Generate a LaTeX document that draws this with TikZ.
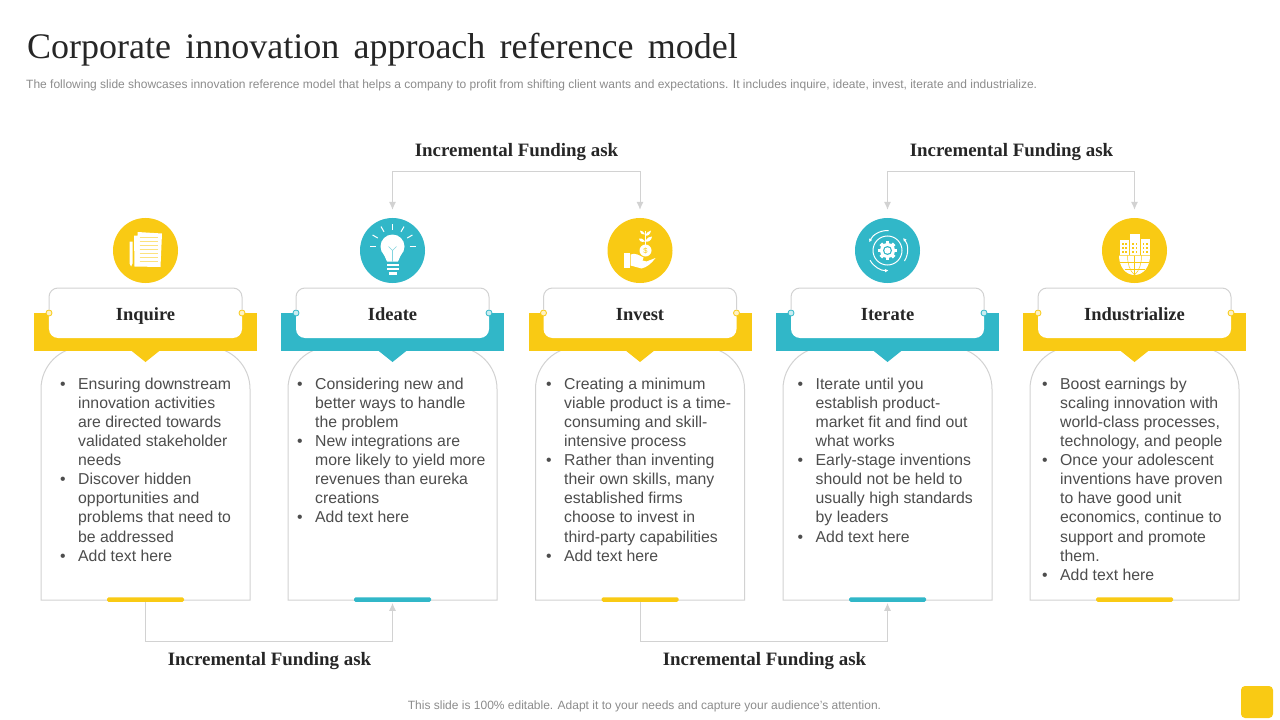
\documentclass[tikz,border=0pt]{standalone}
\usepackage{fontspec}
\setmainfont{Liberation Sans}
\newfontfamily\serifbold[Ligatures=TeX]{Liberation Serif}
\usepackage{xcolor}
\usetikzlibrary{arrows.meta,calc}
\definecolor{fundgold}{HTML}{F9CA14}
\definecolor{fundteal}{HTML}{31B7C8}
\definecolor{fundgrey}{HTML}{D2D2D2}
\definecolor{darktext}{HTML}{262626}
\definecolor{bodytext}{HTML}{4D4D4D}
\definecolor{softtext}{HTML}{8C8C8C}
\newcommand{\bul}{\llap{\textbullet\hspace{12.5bp}}}
\tikzset{
  titletext/.style={inner sep=0pt,anchor=west,text=darktext,font=\serifbold\fontsize{36bp}{40bp}\selectfont},
  smalltext/.style={inner sep=0pt,text=softtext,font=\fontsize{12bp}{14bp}\selectfont},
  fundlabel/.style={inner sep=0pt,text=darktext,font=\serifbold\bfseries\fontsize{18.9bp}{22bp}\selectfont},
  stagelabel/.style={inner sep=0pt,anchor=base,text=darktext,font=\serifbold\bfseries\fontsize{18.5bp}{22bp}\selectfont},
  bodylist/.style={inner sep=0pt,anchor=north west,align=left,text=bodytext,font=\fontsize{15.8bp}{19.1bp}\selectfont},
  fundline/.style={draw=fundgrey,line width=1bp,-{Latex[length=8bp,width=7bp]}},
  edgeline/.style={draw=fundgrey,line width=1bp},
}
\begin{document}
\begin{tikzpicture}[x=1bp,y=-1bp]
\useasboundingbox (0,0) rectangle (1280,720);
\fill[white] (0,0) rectangle (1280,720);
%% heading
\node (title) at (27,50) [titletext] {\spaceskip=14.2bp Corporate innovation approach reference model};
\node (subtitle) at (26,85.5) [smalltext,anchor=west] {The following slide showcases innovation reference model that helps a company to profit from shifting client wants and expectations. It includes inquire, ideate, invest, iterate and industrialize.};
%% the five columns
\foreach \nm/\cx/\colr/\ttl in {inquire/145.5/fundgold/Inquire,ideate/392.5/fundteal/Ideate,invest/640/fundgold/Invest,iterate/887.5/fundteal/Iterate,industrial/1134.5/fundgold/Industrialize}{
\begin{scope}[shift={(\cx,0)}]
  \draw [edgeline,fill=white] (-104.5,600) [rounded corners=42bp] -- (-104.5,347) -- (104.5,347) [sharp corners] -- (104.5,600) -- cycle;
  \fill [\colr] (-111.5,313) rectangle (111.5,351);
  \fill [\colr] (-15,350) -- (15,350) -- (0,362) -- cycle;
  \node (\nm head) at (0,313) [fill=white,rounded corners=9bp,minimum width=193bp,minimum height=50bp] {};
  \node (\nm) at (0,320) [stagelabel] {\ttl};
  \node (\nm left) at (-96.5,313) [circle,inner sep=0pt,minimum size=6bp,draw=\colr,fill=\colr!25,line width=.8bp] {};
  \node (\nm right) at (96.5,313) [circle,inner sep=0pt,minimum size=6bp,draw=\colr,fill=\colr!25,line width=.8bp] {};
  \draw [edgeline,rounded corners=9bp] (\nm left) |- (0,288) -| (\nm right);
  \node (\nm icon) at (0,250.5) [circle,fill=\colr,minimum size=65bp,inner sep=0pt] {};
  \node (\nm bar) at (0,599.5) [fill=\colr,rounded corners=1.5bp,minimum width=77bp,minimum height=4.5bp,inner sep=0pt] {};
\end{scope}
}
%% column texts
\node (inquiretext) at (78,377.6) [bodylist] {\bul Ensuring downstream\\innovation activities\\are directed towards\\validated stakeholder\\needs\\\bul Discover hidden\\opportunities and\\problems that need to\\be addressed\\\bul Add text here};
\node (ideatetext) at (315,377.6) [bodylist] {\bul Considering new and\\better ways to handle\\the problem\\\bul New integrations are\\more likely to yield more\\revenues than eureka\\creations\\\bul Add text here};
\node (investtext) at (564,377.6) [bodylist] {\bul Creating a minimum\\viable product is a time-\\consuming and skill-\\intensive process\\\bul Rather than inventing\\their own skills, many\\established firms\\choose to invest in\\third-party capabilities\\\bul Add text here};
\node (iteratetext) at (815.5,377.6) [bodylist] {\bul Iterate until you\\establish product-\\market fit and find out\\what works\\\bul Early-stage inventions\\should not be held to\\usually high standards\\by leaders\\\bul Add text here};
\node (industrialtext) at (1060,377.6) [bodylist] {\bul Boost earnings by\\scaling innovation with\\world-class processes,\\technology, and people\\\bul Once your adolescent\\inventions have proven\\to have good unit\\economics, continue to\\support and promote\\them.\\\bul Add text here};
%% funding asks
\node (fundtopa) at (516.5,152) [fundlabel] {Incremental Funding ask};
\node (fundtopb) at (1011.5,152) [fundlabel] {Incremental Funding ask};
\node (fundbota) at (269.5,661) [fundlabel] {Incremental Funding ask};
\node (fundbotb) at (764.5,661) [fundlabel] {Incremental Funding ask};
\coordinate (cornera) at (516.5,171.5);
\coordinate (cornerb) at (1011.5,171.5);
\coordinate (cornerc) at (269.5,641.5);
\coordinate (cornerd) at (764.5,641.5);
\draw [fundline,{Latex[length=8bp,width=7bp]}-{Latex[length=8bp,width=7bp]},shorten <=8bp,shorten >=8bp] (ideateicon.north) |- (cornera) -| (investicon.north);
\draw [fundline,{Latex[length=8bp,width=7bp]}-{Latex[length=8bp,width=7bp]},shorten <=8bp,shorten >=8bp] (iterateicon.north) |- (cornerb) -| (industrialicon.north);
\draw [fundline,shorten >=1bp] (inquirebar.south) |- (cornerc) -| (ideatebar.south);
\draw [fundline,shorten >=1bp] (investbar.south) |- (cornerd) -| (iteratebar.south);
%% icons
% papers
\begin{scope}[shift={(145.5,250.5)}]
  \fill [white] (-11.5,-15) -- (-8,-15) -- (-8,-18.5) -- (16.5,-17) -- (15,16.5) -- (-11,16) -- cycle;
  \fill [white] (-16,-9) -- (-13,-9) -- (-13,13) -- (-14.5,16) -- (-16,13) -- cycle;
  \foreach \ly in {-13,-9,-5,-1,3,7,11}{\draw [fundgold!55,line width=.5bp] (-6,\ly) -- (12,\ly);}
\end{scope}
% bulb
\begin{scope}[shift={(392.5,250.5)},fundrays/.style={white,line width=1bp}]
  \fill [white] (0,-4) circle (12);
  \fill [white] (-9.5,2) -- (9.5,2) -- (5.5,11) -- (-5.5,11) -- cycle;
  \fill [white] (-6,13) rectangle (6,15.5);
  \fill [white] (-6,17) rectangle (6,19.5);
  \fill [white] (-4,21) rectangle (4,24);
  \draw [fundteal!60,line width=.6bp] (0,11) -- (0,0) -- (-4,-4) (0,0) -- (4,-4);
  \foreach \ra in {0,-30,-60,-90,-120,-150,180}{\draw [fundrays] (0,-4) ++(\ra:17) -- ++(\ra:6);}
\end{scope}
% hand with coin and sprout
\begin{scope}[shift={(640.5,250.5)}]
  \fill [white] (-16.5,2) rectangle (-11,17.5);
  \fill [white] (-10,4) .. controls (-5,2) and (-1,5) .. (3,7) -- (2,10) -- (6,11) -- (15,7.5) .. controls (11,13) and (6,17) .. (1,18) -- (-10,15) -- cycle;
  \fill [white] (5,0) circle (6);
  \node (coinmark) at (5,0) [inner sep=0pt,text=fundgold,font=\fontsize{7.5bp}{8bp}\selectfont] {\$};
  \draw [white,line width=1bp] (4.5,-6) -- (4.5,-20);
  \fill [white] (4.5,-9) .. controls (7,-13) and (9,-14) .. (11.5,-14) .. controls (11,-10) and (8,-8) .. (4.5,-9);
  \fill [white] (4.5,-9) .. controls (2,-12) and (0,-13) .. (-1.5,-12) .. controls (-1,-9) and (1,-8) .. (4.5,-9);
  \fill [white] (4.5,-15) .. controls (6,-18) and (8,-19) .. (10.5,-20) .. controls (10,-16) and (7,-14) .. (4.5,-15);
  \fill [white] (4.5,-16) .. controls (3,-19) and (1,-20) .. (-.5,-20) .. controls (0,-17) and (2,-15) .. (4.5,-16);
\end{scope}
% gear with turning arrows
\begin{scope}[shift={(887.5,250.5)}]
  \draw [white,line width=1bp] (0,0) circle (14.5);
  \fill [white] (0,0) circle (7.5);
  \foreach \ga in {0,45,...,315}{\fill [white,rotate=\ga] (-1.8,-9.5) rectangle (1.8,-6);}
  \fill [fundteal] (0,0) circle (4.5);
  \fill [white] (0,0) circle (3.2);
  \draw [white,line width=1bp,-{Latex[length=3.5bp,width=3.5bp]}] (-87:20) arc (-87:-156:20);
  \draw [white,line width=1bp,-{Latex[length=3.5bp,width=3.5bp]}] (32:20) arc (32:-39:20);
  \draw [white,line width=1bp,-{Latex[length=3.5bp,width=3.5bp]}] (151:20) arc (151:87:20);
\end{scope}
% buildings on a globe
\begin{scope}[shift={(1134.5,250.5)}]
  \fill [white] (-14.5,-11) rectangle (-6,4);
  \fill [white] (-5,-17) rectangle (5,4);
  \fill [white] (6,-12) rectangle (15,4);
  \foreach \wx in {-12.5,-9.5,-2.5,1,8,11.5}{\foreach \wy in {-8,-4,0}{\fill [fundgold] (\wx,\wy) rectangle ++(1.5,2);}}
  \fill [white] (-15.5,5) -- (15.5,5) .. controls (15.5,16) and (9,24.5) .. (0,24.5) .. controls (-9,24.5) and (-15.5,16) .. (-15.5,5) -- cycle;
  \draw [fundgold,line width=.5bp] (0,5) -- (0,24.5) (-14.5,12) -- (14.5,12) (-10,19) -- (10,19);
  \draw [fundgold,line width=.5bp] (-7,5) .. controls (-7,13) and (-5,20) .. (0,24.5) .. controls (5,20) and (7,13) .. (7,5);
\end{scope}
%% footer
\node (footnote) at (644.5,706.5) [smalltext] {This slide is 100\% editable. Adapt it to your needs and capture your audience’s attention.};
\node (cornermark) at (1257,702) [fill=fundgold,rounded corners=4bp,minimum size=32bp,inner sep=0pt] {};
\end{tikzpicture}
\end{document}
